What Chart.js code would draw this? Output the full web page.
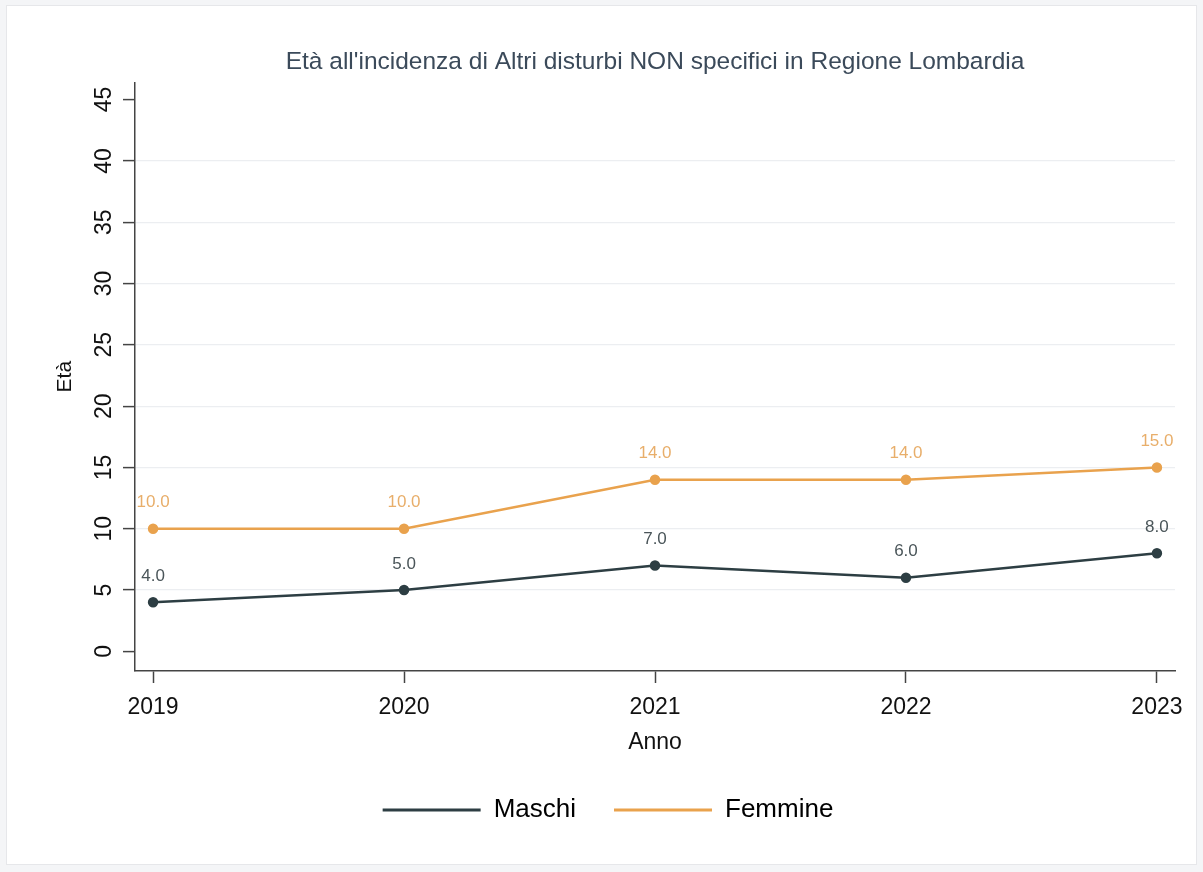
<!DOCTYPE html>
<html>
<head>
<meta charset="utf-8">
<script src="https://cdn.jsdelivr.net/npm/chart.js@4.4.1/dist/chart.umd.min.js"></script>
<style>
  body { margin: 0; background: #f4f5f7; width: 1203px; height: 872px; overflow: hidden; }
  #frame { position: absolute; left: 6px; top: 5px; width: 1189px; height: 858px; background: #fff; border: 1px solid #e6e7ea; }
</style>
</head>
<body>
<div id="frame"><canvas id="chart" width="1189" height="858"></canvas></div>
<script>
const years = [2019, 2020, 2021, 2022, 2023];
const maschi = [4, 5, 7, 6, 8];
const femmine = [10, 10, 14, 14, 15];
const yTicks = [0, 5, 10, 15, 20, 25, 30, 35, 40, 45];

const FONT = "'Liberation Sans', Arial, sans-serif";

//Draws the value above each point
const pointLabels = {
    id: 'pointLabels',
    afterDatasetsDraw(chart) {
        const ctx = chart.ctx;
        ctx.save();
        ctx.font = '17px ' + FONT;
        ctx.textAlign = 'center';
        ctx.textBaseline = 'middle';
        chart.data.datasets.forEach((ds, i) => {
            ctx.fillStyle = ds.labelColor;
            chart.getDatasetMeta(i).data.forEach((pt, j) => {
                ctx.fillText(ds.data[j].y.toFixed(1), pt.x, pt.y - 26);
            });
        });
        ctx.restore();
    },
    afterLayout(chart) {
        //nudge legend to where the original sits
        chart.legend.left -= 47;
        chart.legend.right -= 47;
        chart.legend.top += 3;
        chart.legend.bottom += 3;
    }
};

function toPoints(values) {
    return values.map((v, i) => ({ x: years[i], y: v }));
}

new Chart(document.getElementById('chart'), {
    type: 'line',
    data: {
        datasets: [
            { label: 'Maschi', data: toPoints(maschi), borderColor: '#2d3e43', backgroundColor: '#2d3e43', labelColor: '#4a5559', borderWidth: 2.5, pointRadius: 4, tension: 0 },
            { label: 'Femmine', data: toPoints(femmine), borderColor: '#e9a24d', backgroundColor: '#e9a24d', labelColor: '#e8ae6a', borderWidth: 2.5, pointRadius: 4, tension: 0 }
        ]
    },
    options: {
        responsive: false,
        animation: false,
        layout: { padding: { left: 0, right: 21, top: 0, bottom: 34 } },
        plugins: {
            tooltip: { enabled: false },
            title: {
                display: true,
                fullSize: false,
                text: "Età all'incidenza di Altri disturbi NON specifici in Regione Lombardia",
                color: '#3b4a5a',
                font: { family: FONT, size: 24.5, weight: 'normal' },
                padding: { top: 42, bottom: 5 }
            },
            legend: {
                position: 'bottom',
                fullSize: false,
                labels: {
                    color: '#111',
                    font: { family: FONT, size: 26 },
                    boxWidth: 98,
                    boxHeight: 3,
                    padding: 38,
                    generateLabels: (chart) => chart.data.datasets.map((ds, i) => ({
                        text: ds.label, fillStyle: ds.borderColor, strokeStyle: ds.borderColor, lineWidth: 0, datasetIndex: i
                    }))
                }
            }
        },
        scales: {
            x: {
                type: 'linear',
                min: 2018.928,
                max: 2023.072,
                afterBuildTicks: (scale) => { scale.ticks = years.map(v => ({ value: v })); },
                afterFit: (scale) => { scale.height = 85; },
                ticks: { color: '#111', font: { family: FONT, size: 23 }, padding: 11, callback: (v) => String(v), maxRotation: 0 },
                grid: { drawOnChartArea: false, tickLength: 12, tickColor: '#444', tickWidth: 1.5 },
                border: { color: '#444', width: 1.5 },
                title: { display: true, text: 'Anno', color: '#111', font: { family: FONT, size: 23 }, padding: { top: 0, bottom: 0 } }
            },
            y: {
                type: 'linear',
                min: -1.6,
                max: 46.4,
                afterBuildTicks: (scale) => { scale.ticks = yTicks.map(v => ({ value: v })); },
                afterFit: (scale) => { scale.width = 128; },
                ticks: { color: '#111', font: { family: FONT, size: 23 }, padding: 6, minRotation: 90, maxRotation: 90, crossAlign: 'center' },
                grid: {
                    color: (c) => (c.tick && (c.tick.value === 0 || c.tick.value === 45)) ? 'rgba(0,0,0,0)' : '#eceef1',
                    lineWidth: 1.2,
                    tickLength: 12,
                    tickColor: '#444',
                    tickWidth: 1.5
                },
                border: { color: '#444', width: 1.5 },
                title: { display: true, text: 'Età', color: '#111', font: { family: FONT, size: 21 }, padding: { top: 46, bottom: 0 } }
            }
        }
    },
    plugins: [pointLabels]
});
</script>
</body>
</html>
